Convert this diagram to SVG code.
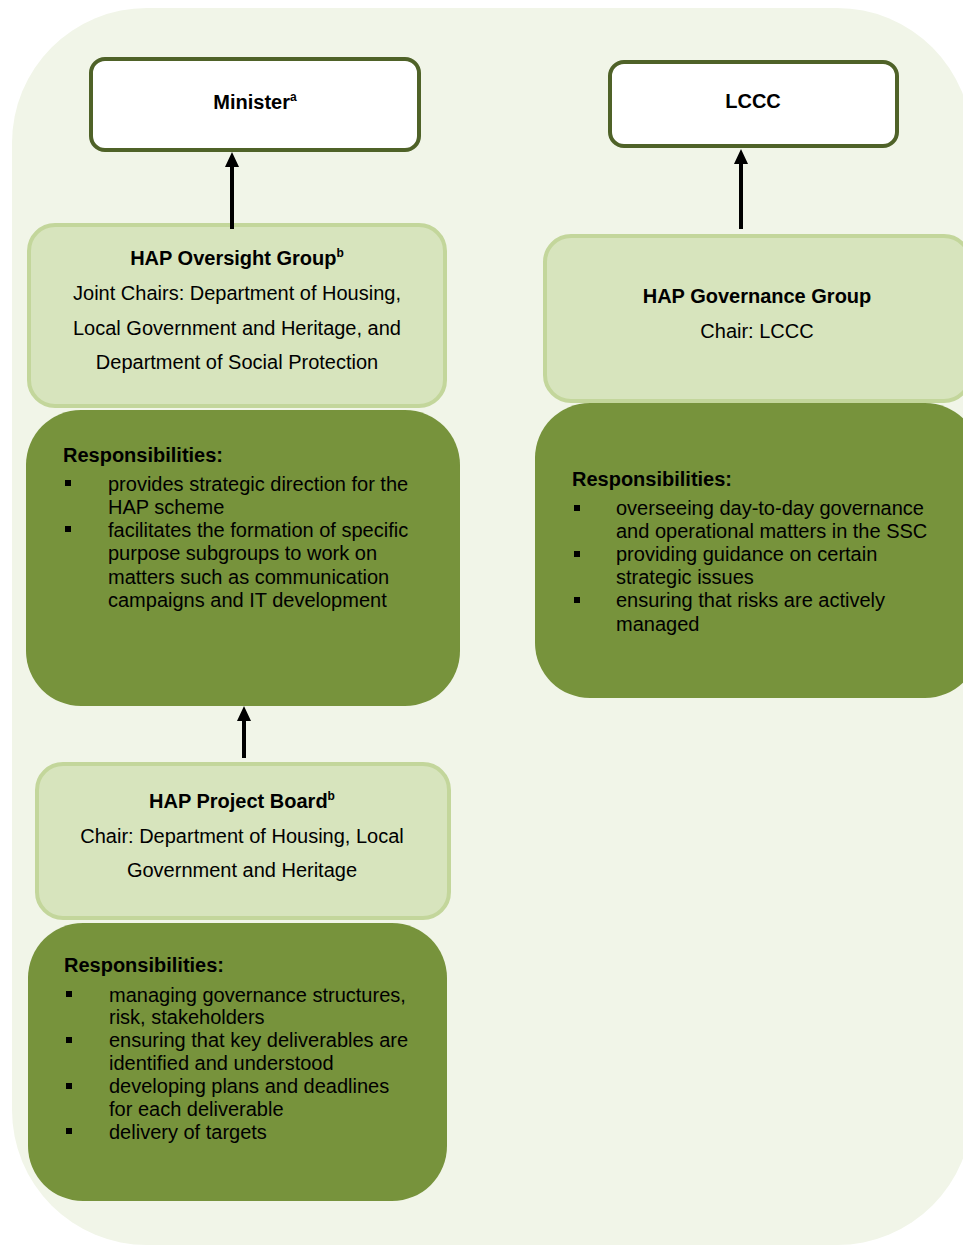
<svg xmlns="http://www.w3.org/2000/svg" width="963" height="1245" viewBox="0 0 963 1245">
  <defs>
    <style>
      text { font-family: "Liberation Sans", Arial, sans-serif; fill: #000; }
      .b { font-weight: bold; font-size: 20px; }
      .r { font-size: 20px; }
      .mid { text-anchor: middle; }
      .sup { font-size: 12px; }
      .top { fill: #ffffff; stroke: #4f6228; stroke-width: 4; }
      .grp { fill: #d7e4bd; stroke: #c3d69b; stroke-width: 4; }
      .resp { fill: #77933c; }
      .bul { fill: #000; }
      .conn { stroke: #000; stroke-width: 4; fill: none; }
    </style>
    <marker id="ah" markerUnits="userSpaceOnUse" markerWidth="16" markerHeight="16" refX="0" refY="7" orient="auto" viewBox="0 0 16 14">
      <path d="M0,0 L15,7 L0,14 z" fill="#000"/>
    </marker>
  </defs>

  <rect id="background" x="12" y="8" width="960" height="1237" rx="135" ry="135" fill="#f1f5e8"/>

  <g id="minister">
    <rect class="top" x="91" y="59" width="328" height="91" rx="14"/>
    <text class="b mid" x="255" y="109">Minister<tspan class="sup" dy="-8">a</tspan></text>
  </g>

  <g id="lccc">
    <rect class="top" x="610" y="62" width="287" height="84" rx="14"/>
    <text class="b mid" x="753" y="108">LCCC</text>
  </g>

  <g id="oversight-group">
    <rect class="grp" x="29" y="225" width="416" height="181" rx="26"/>
    <text class="b mid" x="237" y="265">HAP Oversight Group<tspan class="sup" dy="-8">b</tspan></text>
    <text class="r mid" x="237" y="300">Joint Chairs: Department of Housing,</text>
    <text class="r mid" x="237" y="335">Local Government and Heritage, and</text>
    <text class="r mid" x="237" y="369">Department of Social Protection</text>
  </g>

  <g id="oversight-responsibilities">
    <rect class="resp" x="26" y="410" width="434" height="296" rx="55"/>
    <text class="b" x="63" y="462">Responsibilities:</text>
    <rect class="bul" x="65" y="480" width="6" height="6"/>
    <rect class="bul" x="65" y="526" width="6" height="6"/>
    <text class="r" x="108" y="491">provides strategic direction for the</text>
    <text class="r" x="108" y="514">HAP scheme</text>
    <text class="r" x="108" y="537">facilitates the formation of specific</text>
    <text class="r" x="108" y="560">purpose subgroups to work on</text>
    <text class="r" x="108" y="584">matters such as communication</text>
    <text class="r" x="108" y="607">campaigns and IT development</text>
  </g>

  <g id="governance-group">
    <rect class="grp" x="545" y="236" width="425" height="165" rx="26"/>
    <text class="b mid" x="757" y="303">HAP Governance Group</text>
    <text class="r mid" x="757" y="338">Chair: LCCC</text>
  </g>

  <g id="governance-responsibilities">
    <rect class="resp" x="535" y="403" width="445" height="295" rx="55"/>
    <text class="b" x="572" y="486">Responsibilities:</text>
    <rect class="bul" x="574" y="505" width="6" height="6"/>
    <rect class="bul" x="574" y="551" width="6" height="6"/>
    <rect class="bul" x="574" y="597" width="6" height="6"/>
    <text class="r" x="616" y="515">overseeing day-to-day governance</text>
    <text class="r" x="616" y="538">and operational matters in the SSC</text>
    <text class="r" x="616" y="561">providing guidance on certain</text>
    <text class="r" x="616" y="584">strategic issues</text>
    <text class="r" x="616" y="607">ensuring that risks are actively</text>
    <text class="r" x="616" y="631">managed</text>
  </g>

  <g id="project-board">
    <rect class="grp" x="37" y="764" width="412" height="154" rx="26"/>
    <text class="b mid" x="242" y="808">HAP Project Board<tspan class="sup" dy="-8">b</tspan></text>
    <text class="r mid" x="242" y="843">Chair: Department of Housing, Local</text>
    <text class="r mid" x="242" y="877">Government and Heritage</text>
  </g>

  <g id="project-board-responsibilities">
    <rect class="resp" x="28" y="923" width="419" height="278" rx="55"/>
    <text class="b" x="64" y="972">Responsibilities:</text>
    <rect class="bul" x="66" y="991" width="6" height="6"/>
    <rect class="bul" x="66" y="1037" width="6" height="6"/>
    <rect class="bul" x="66" y="1083" width="6" height="6"/>
    <rect class="bul" x="66" y="1128" width="6" height="6"/>
    <text class="r" x="109" y="1002">managing governance structures,</text>
    <text class="r" x="109" y="1024">risk, stakeholders</text>
    <text class="r" x="109" y="1047">ensuring that key deliverables are</text>
    <text class="r" x="109" y="1070">identified and understood</text>
    <text class="r" x="109" y="1093">developing plans and deadlines</text>
    <text class="r" x="109" y="1116">for each deliverable</text>
    <text class="r" x="109" y="1139">delivery of targets</text>
  </g>

  <g id="connectors">
    <line class="conn" x1="232" y1="229" x2="232" y2="167" marker-end="url(#ah)"/>
    <line class="conn" x1="741" y1="229" x2="741" y2="164" marker-end="url(#ah)"/>
    <line class="conn" x1="244" y1="758" x2="244" y2="721" marker-end="url(#ah)"/>
  </g>
</svg>
